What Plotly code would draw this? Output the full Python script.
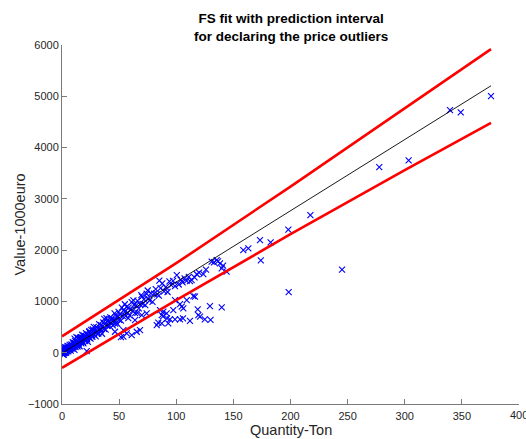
import plotly.graph_objects as go

# Observed trades: quantity (tons) and declared value (thousand euro)
qty = [
    # small consignments
    0.3, 0.5, 0.6, 0.7, 0.8, 0.9, 1.1, 1.2, 1.4, 1.5, 1.6, 1.7, 1.9, 2.0, 2.1, 2.2, 2.4, 2.6, 2.7, 2.9,
    3.1, 3.3, 3.5, 3.6, 3.8, 4.0, 4.2, 4.4, 4.6, 4.8, 5.0, 5.2, 5.5, 5.7, 5.9, 6.2, 6.4, 6.7, 6.9, 7.2,
    7.5, 7.7, 8.0, 8.3, 8.6, 8.8, 9.1, 9.4, 9.7, 9.9,
    10.2, 10.5, 10.9, 11.2, 11.5, 11.9, 12.2, 12.6, 12.9, 13.3, 13.6, 14.0, 14.3, 14.7, 15.1, 15.4, 15.8,
    16.2, 16.5, 16.9, 17.3, 17.7, 18.0, 18.4, 18.8, 19.2, 19.6, 20.0, 20.4, 20.9, 21.3, 21.8, 22.3, 22.7,
    23.2, 23.7, 24.1, 24.6, 25.0, 11.0, 13.0, 16.0, 19.0, 22.0, 24.0, 21.6,
    25.5, 26.1, 26.6, 27.2, 27.8, 28.3, 28.9, 29.5, 30.1, 30.7, 31.3, 31.9, 32.5, 33.1, 33.7, 34.3, 35.0,
    35.6, 36.2, 36.9, 37.5, 38.2, 38.9, 39.5, 40.2, 40.9, 41.6, 42.3, 43.0, 43.7, 44.5, 45.2, 46.0, 46.8,
    47.6, 48.4, 49.2, 27.0, 31.0, 34.0, 37.0, 40.0, 43.0, 46.5, 49.5,
    50.0, 50.8, 51.6, 52.4, 53.2, 54.0, 54.9, 55.7, 56.5, 57.4, 58.3, 59.2, 60.1, 61.0, 62.0, 63.0, 64.0,
    65.0, 66.1, 67.2, 68.3, 69.4, 70.5, 71.7, 72.9, 74.1, 75.3, 76.6, 77.9, 79.2, 80.6, 82.0, 83.4, 84.8,
    86.3, 87.8, 89.3, 90.8, 92.4, 94.0, 95.6, 97.2, 98.9, 100.5, 55.0, 62.5, 70.0, 75.0, 58.0, 66.0, 85.2,
    # larger consignments
    102.2, 103.9, 105.6, 107.3, 109.0, 111.0, 112.0, 113.5, 116.0, 118.0, 120.0, 123.7, 126.0, 131.0,
    133.0, 135.4, 136.5, 138.3, 139.8, 141.0, 144.1,
    158.7, 163.1, 173.3, 174.0, 182.6, 198.1, 217.4, 245.1, 198.4, 277.7, 303.4, 339.6, 349.0, 375.5,
    # under-priced group
    46.4, 51.6, 53.7, 53.7, 56.6, 61.0, 63.9, 65.4, 68.3, 69.8, 74.1, 82.9, 84.3, 85.8, 87.3, 87.3,
    88.4, 88.7, 91.6, 91.9, 93.0, 94.5, 97.4, 98.9, 98.9, 103.3, 103.3, 105.9, 106.2, 109.2, 115.0,
    118.8, 119.3, 120.8, 129.5, 139.8, 104.8, 116.4, 125.0, 130.0, 112.0,
]
value = [
    22, -23, 63, 2, 46, -35, 18, 87, -1, 49, -38, 34, 71, -7, 26, 111, 18, 59, -5, 100,
    48, 21, 87, -5, 68, 106, 48, 28, 94, 132, 47, 80, 26, 122, 77, 111, 51, 151, 96, 82,
    137, 42, 124, 163, 92, 142, 81, 206, 122, 178,
    110, 190, 56, 172, 232, 109, 166, 303, 155, 221, 121, 291, 207, 164, 270, 126, 244,
    305, 213, 183, 288, 350, 214, 268, 181, 335, 264, 318, 224, 383, 296, 275, 362, 212,
    342, 405, 291, 374, 276, 273, 161, 286, 292, 258, 422, 33,
    444, 345, 311, 432, 503, 352, 416, 320, 495, 418, 480, 375, 556, 460, 436, 536, 370,
    518, 589, 463, 557, 450, 676, 526, 631, 601, 524, 687, 584, 670, 533, 633, 765, 615,
    712, 565, 702, 456, 368, 468, 658, 529, 639, 569, 796,
    640, 746, 627, 878, 714, 831, 798, 714, 895, 783, 880, 728, 840, 988, 822, 931, 770,
    924, 1009, 864, 944, 1125, 950, 1042, 928, 1150, 1057, 1015, 1158, 991, 1150, 1240, 1139, 1114,
    1260, 1350, 1196, 1277, 1184, 1392, 1319, 1401, 1300, 1512, 945, 1019, 1093, 1213, 676, 777, 1404,
    1330, 1420, 1370, 1450, 1400, 1480, 1398, 1417, 1470, 1530, 1560, 1534, 1620, 1774,
    1760, 1807, 1780, 1743, 1645, 1700, 1579,
    2002, 2035, 2197, 1800, 2150, 2400, 2684, 1620, 1180, 3620, 3750, 4730, 4686, 5004,
    409, 304, 312, 442, 378, 345, 637, 409, 442, 735, 768, 540, 585, 832, 573, 735,
    710, 800, 768, 670, 573, 650, 832, 1027, 650, 949, 650, 670, 865, 1027, 1105,
    846, 735, 702, 910, 885, 897, 1092, 650, 640, 620,
]

# Forward-search fit and its prediction band
fit_x = [0, 375.5]
fit_y = [-10, 5205]
band_x = [0, 100, 200, 300, 375.5]
band_upper = [320, 1745, 3240, 4760, 5920]
band_lower = [-295, 1025, 2310, 3560, 4480]

x_ticks = [0, 50, 100, 150, 200, 250, 300, 350, 400]
y_ticks = [-1000, 0, 1000, 2000, 3000, 4000, 5000, 6000]

axis_col = "#262626"
line_col = "#7a7a7a"
font_family = "Liberation Sans, Arial, Helvetica, sans-serif"

fig = go.Figure()
fig.add_trace(go.Scatter(
    x=qty, y=value, mode="markers",
    marker=dict(symbol="x-thin", size=6, line=dict(color="#0000ff", width=1.1)),
    showlegend=False,
))
fig.add_trace(go.Scatter(
    x=fit_x, y=fit_y, mode="lines",
    line=dict(color="#000000", width=0.9), showlegend=False,
))
for band in (band_upper, band_lower):
    fig.add_trace(go.Scatter(
        x=band_x, y=band, mode="lines",
        line=dict(color="#ff0000", width=2.6), showlegend=False,
    ))

axis_common = dict(
    showgrid=False, zeroline=False, showline=True, linecolor=line_col, linewidth=1,
    ticks="inside", ticklen=5, tickcolor=line_col, tickwidth=1,
    tickfont=dict(size=11, color=axis_col, family=font_family),
    automargin=False, mirror=False,
)

fig.update_layout(
    width=526, height=439,
    margin=dict(l=62, r=7, t=45, b=35),
    paper_bgcolor="white", plot_bgcolor="white",
    font=dict(family=font_family, color=axis_col),
    xaxis=dict(range=[0, 400], tickvals=x_ticks, ticklabelstandoff=2, **axis_common),
    yaxis=dict(range=[-1000, 6000], tickvals=y_ticks, **axis_common),
    annotations=[
        dict(text="<b>FS fit with prediction interval<br>for declaring the price outliers</b>",
             xref="paper", yref="paper", x=0.5, y=1, yanchor="middle", yshift=18,
             showarrow=False, font=dict(size=13.5, color="#000000", family=font_family)),
        dict(text="400", xref="x", yref="paper", x=400, y=0, xanchor="center",
             yanchor="top", yshift=-3, showarrow=False,
             font=dict(size=11, color=axis_col, family=font_family)),
        dict(text="Quantity-Ton", xref="paper", yref="paper", x=0.5, y=0,
             yanchor="middle", yshift=-26, showarrow=False,
             font=dict(size=14.5, color=axis_col, family=font_family)),
        dict(text="Value-1000euro", xref="paper", yref="paper", x=0, y=0.5,
             xanchor="center", yanchor="middle", xshift=-43, textangle=-90,
             showarrow=False, font=dict(size=14.5, color=axis_col, family=font_family)),
    ],
)

fig.write_html("out.html")
